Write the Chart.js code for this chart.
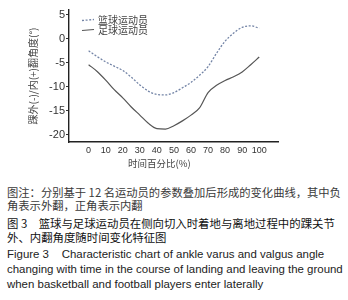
<!DOCTYPE html>
<html>
<head>
<meta charset="utf-8">
<script src="https://cdn.jsdelivr.net/npm/chart.js@4.4.0/dist/chart.umd.min.js"></script>
<style>
  html, body { margin:0; padding:0; background:#fff; }
  body { width:348px; height:300px; position:relative; overflow:hidden; }
  #wrap { position:absolute; left:0; top:0; width:348px; height:172px; }
  .cap { position:absolute; left:7px; white-space:nowrap; line-height:14px; }
  .zh { font-family:"Noto Sans CJK SC", sans-serif; font-size:11.3px; color:#3a3a3a; }
  .zh2 { font-family:"Noto Sans CJK SC", sans-serif; font-size:11.4px; color:#111; }
  .en { font-family:"Liberation Sans", Arial, sans-serif; font-size:11.45px; color:#222; }
</style>
</head>
<body>
<div id="wrap"><canvas id="c" width="348" height="172"></canvas></div>
<div class="cap zh" style="top:185px">图注：分别基于 12 名运动员的参数叠加后形成的变化曲线，其中负</div>
<div class="cap zh" style="top:198px">角表示外翻，正角表示内翻</div>
<div class="cap zh2" style="top:216px">图 3　篮球与足球运动员在侧向切入时着地与离地过程中的踝关节</div>
<div class="cap zh2" style="top:230px">外、内翻角度随时间变化特征图</div>
<div class="cap en" style="top:247px">Figure 3&nbsp;&nbsp;&nbsp; Characteristic chart of ankle varus and valgus angle</div>
<div class="cap en" style="top:262px">changing with time in the course of landing and leaving the ground</div>
<div class="cap en" style="top:277px">when basketball and football players enter laterally</div>
<script>
const timePercent = [0,5,10,15,20,25,30,35,40,45,50,55,60,65,70,75,80,85,90,95,100];
const basketball = [-2.5,-3.7,-4.8,-5.7,-6.6,-8.0,-9.6,-10.9,-11.6,-11.7,-11.2,-10.2,-9.1,-7.6,-5.8,-3.0,-0.5,1.2,2.4,2.7,2.2];
const football = [-5.4,-6.8,-8.6,-10.6,-12.3,-14.2,-15.9,-17.6,-18.7,-18.8,-18.1,-17.1,-15.9,-14.4,-11.2,-9.7,-8.7,-7.9,-6.9,-5.4,-3.8];
const xTicks = [0,10,20,30,40,50,60,70,80,90,100];
const yTicks = [5,0,-5,-10,-15,-20];
const seriesNames = ['篮球运动员','足球运动员'];
const xTitle = '时间百分比(%)';
const yTitle = '踝外(-)/内(+)翻角度(°)';

const toPts = arr => arr.map((v,i)=>({x:timePercent[i], y:v}));

const legendPlugin = {
  id:'innerLegend',
  afterDraw(chart){
    const ctx = chart.ctx;
    const xs = chart.scales.x;
    ctx.save();
    chart.data.datasets.forEach((ds,i)=>{
      const y = 20 + i*10;
      ctx.beginPath();
      ctx.strokeStyle = ds.borderColor;
      ctx.lineWidth = ds.borderWidth;
      ctx.setLineDash(ds.borderDash || []);
      ctx.moveTo(82, y+0.5); ctx.lineTo(94, y-0.5);
      ctx.stroke();
      ctx.setLineDash([]);
      ctx.fillStyle = '#444';
      ctx.font = '10px "Noto Sans CJK SC"';
      ctx.textBaseline = 'middle';
      ctx.textAlign = 'left';
      ctx.fillText(ds.label, 98, y);
    });
    ctx.fillStyle = '#444';
    ctx.font = '9.5px "Noto Sans CJK SC"';
    ctx.textAlign = 'center';
    ctx.textBaseline = 'middle';
    ctx.fillText(xTitle, xs.getPixelForValue(41.5), 163);
    ctx.restore();
  }
};

new Chart(document.getElementById('c'), {
  type:'line',
  data:{
    datasets:[
      {label:seriesNames[0], data:toPts(basketball), borderColor:'#7384a6', borderWidth:1.3, borderDash:[2,1.6], pointRadius:0, tension:0.4, cubicInterpolationMode:'monotone', fill:false},
      {label:seriesNames[1], data:toPts(football), borderColor:'#555555', borderWidth:1.2, pointRadius:0, tension:0.4, cubicInterpolationMode:'monotone', fill:false}
    ]
  },
  options:{
    responsive:false,
    animation:false,
    layout:{padding:{left:0,right:70,top:10,bottom:0}},
    plugins:{legend:{display:false}, tooltip:{enabled:false}},
    scales:{
      x:{
        type:'linear', min:-11.5, max:111,
        afterBuildTicks:s=>{ s.ticks = xTicks.map(v=>({value:v})); },
        afterFit:s=>{ s.height = 30; },
        grid:{display:false, drawTicks:false},
        border:{display:true, color:'#222', width:1.4},
        ticks:{font:{family:'"Liberation Sans", Arial', size:9}, color:'#333', padding:3, maxRotation:0, autoSkip:false}
      },
      y:{
        type:'linear', min:-21.5, max:6,
        afterBuildTicks:s=>{ s.ticks = yTicks.map(v=>({value:v})); },
        afterFit:s=>{ s.width = 69; },
        grid:{drawOnChartArea:false, drawTicks:true, tickLength:3, tickColor:'#333'},
        border:{display:true, color:'#222', width:1.4},
        ticks:{font:{family:'"Liberation Sans", Arial', size:11}, color:'#333', padding:1},
        title:{display:true, text:yTitle, font:{family:'"Noto Sans CJK SC"', size:10}, color:'#444', padding:{top:27,bottom:0}}
      }
    }
  },
  plugins:[legendPlugin]
});
</script>
</body>
</html>
